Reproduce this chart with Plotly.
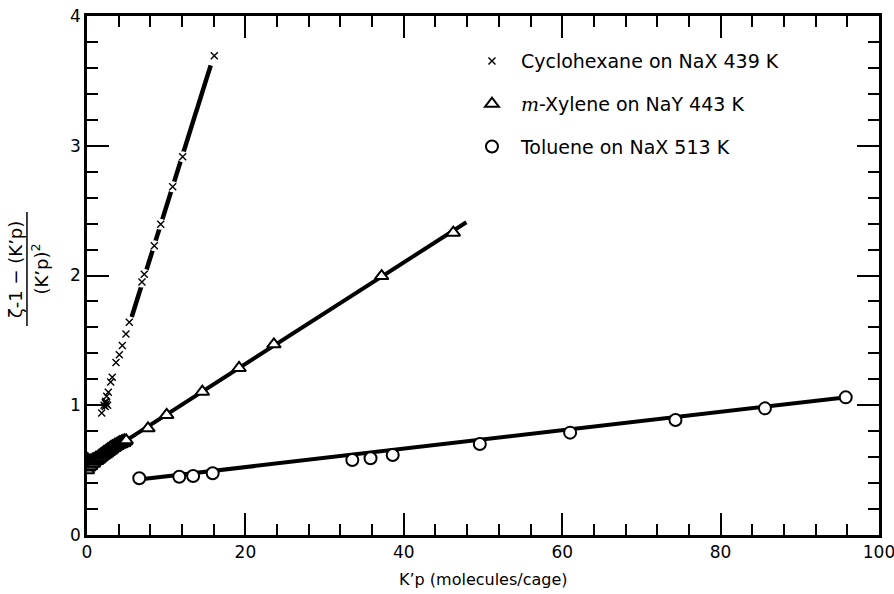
import plotly.graph_objects as go

# --- measured points -------------------------------------------------------
# Cyclohexane on NaX, 439 K
cyc_x = [1.86, 2.15, 2.3, 2.3, 2.36, 2.45, 2.49, 2.6, 2.69, 2.99, 3.19, 3.66,
         4.08, 4.46, 4.92, 5.34, 6.94, 7.23, 8.50, 9.31, 10.82, 12.08, 16.07]
cyc_y = [0.94, 1.00, 0.99, 1.02, 1.03, 1.01, 1.07, 1.00, 1.10, 1.18, 1.215, 1.33,
         1.39, 1.46, 1.55, 1.64, 1.95, 2.01, 2.23, 2.395, 2.684, 2.916, 3.694]

# m-Xylene on NaY, 443 K (dense run of points below K'p = 5)
xyl_x = [0.05, 0.08, 0.12, 0.2, 0.22, 0.3, 0.35, 0.45, 0.5, 0.62, 0.7, 0.8,
         0.88, 0.95, 1.1, 1.2, 1.3, 1.42, 1.5, 1.6, 1.7, 1.8, 1.95, 2.05,
         2.15, 2.3, 2.4, 2.5, 2.6, 2.7, 2.85, 2.95, 3.05, 3.15, 3.25, 3.4,
         3.5, 3.6, 3.7, 3.8, 3.95, 4.05, 4.15, 4.25, 4.35, 4.45, 4.55, 4.65,
         4.75, 4.85, 4.95, 7.7, 10.06, 14.56, 19.2, 23.6, 37.2, 46.25]
xyl_y = [0.50, 0.585, 0.54, 0.52, 0.575, 0.545, 0.565, 0.53, 0.575, 0.55, 0.58, 0.55,
         0.585, 0.565, 0.595, 0.57, 0.60, 0.58, 0.61, 0.59, 0.62, 0.60, 0.63, 0.61,
         0.64, 0.62, 0.65, 0.63, 0.66, 0.64, 0.67, 0.65, 0.68, 0.66, 0.685, 0.67,
         0.695, 0.68, 0.70, 0.685, 0.71, 0.695, 0.715, 0.70, 0.72, 0.705, 0.725, 0.71,
         0.73, 0.72, 0.73, 0.822, 0.925, 1.104, 1.287, 1.47, 1.996, 2.33]

# Toluene on NaX, 513 K
tol_x = [6.6, 11.65, 13.4, 15.87, 33.5, 35.8, 38.6, 49.6, 61.0, 74.3, 85.6, 95.8]
tol_y = [0.437, 0.449, 0.455, 0.476, 0.578, 0.591, 0.617, 0.701, 0.789, 0.886,
         0.976, 1.061]

# straight-line fits through each set (end points)
cyc_fit_x = [5.64, 15.62]
cyc_fit_y = [1.68, 3.62]
xyl_fit_x = [0.0, 47.9]
xyl_fit_y = [0.535, 2.41]
tol_fit_x = [6.56, 96.2]
tol_fit_y = [0.428, 1.064]

labels = ["Cyclohexane on NaX 439 K",
          "<span style='font-family:DejaVu Serif'><i>m</i></span>-Xylene on NaY 443 K",
          "Toluene on NaX 513 K"]

FONT = "DejaVu Sans"
INK = "black"

fig = go.Figure()

# fitted lines
for fx, fy, w in [(cyc_fit_x, cyc_fit_y, 4.5), (xyl_fit_x, xyl_fit_y, 4),
                  (tol_fit_x, tol_fit_y, 4)]:
    fig.add_trace(go.Scatter(x=fx, y=fy, mode="lines", showlegend=False,
                             hoverinfo="skip",
                             line=dict(color=INK, width=w)))

# white halo breaks the cyclohexane line around each cross
fig.add_trace(go.Scatter(x=cyc_x, y=cyc_y, mode="markers", showlegend=False,
                         hoverinfo="skip",
                         marker=dict(symbol="circle", size=11, color="white",
                                     line=dict(width=0))))

fig.add_trace(go.Scatter(x=cyc_x, y=cyc_y, mode="markers", name=labels[0],
                         legendgroup="a",
                         marker=dict(symbol="x-thin", size=7,
                                     line=dict(color=INK, width=1.4))))
fig.add_trace(go.Scatter(x=xyl_x, y=xyl_y, mode="markers", name=labels[1],
                         legendgroup="b",
                         marker=dict(symbol="triangle-up", size=12, color="white",
                                     line=dict(color=INK, width=2))))
fig.add_trace(go.Scatter(x=tol_x, y=tol_y, mode="markers", name=labels[2],
                         legendgroup="c",
                         marker=dict(symbol="circle", size=12, color="white",
                                     line=dict(color=INK, width=2))))

axis_common = dict(showgrid=False, zeroline=False, showline=True,
                   linecolor=INK, linewidth=2.5, mirror="allticks",
                   ticks="inside", ticklen=22, tickwidth=2, tickcolor=INK,
                   ticklabeloverflow="allow", automargin=False,
                   tickfont=dict(family=FONT, size=17, color=INK))

fig.update_xaxes(range=[0, 100], dtick=20, tick0=0,
                 minor=dict(dtick=4, ticks="inside", ticklen=11, tickwidth=2,
                            tickcolor=INK),
                 **axis_common)
fig.update_yaxes(range=[0, 4], dtick=1, tick0=0,
                 minor=dict(dtick=0.2, ticks="inside", ticklen=11, tickwidth=2,
                            tickcolor=INK),
                 **axis_common)

# x-axis title
fig.add_annotation(text="K’p (molecules/cage)", xref="paper", yref="paper",
                   x=0.5, y=-0.0848, showarrow=False,
                   xanchor="center", yanchor="middle",
                   font=dict(family=FONT, size=16, color=INK))

# y-axis label written as a fraction
fig.add_annotation(text="ζ-1 − (K’p)", xref="paper", yref="paper",
                   x=-0.091, y=0.5125, textangle=-90, showarrow=False,
                   xanchor="center", yanchor="middle",
                   font=dict(family=FONT, size=18, color=INK))
fig.add_annotation(text="(K’p)<sup>2</sup>", xref="paper", yref="paper",
                   x=-0.059, y=0.512, textangle=-90, showarrow=False,
                   xanchor="center", yanchor="middle",
                   font=dict(family=FONT, size=18, color=INK))
fig.add_shape(type="line", xref="paper", yref="paper",
              x0=-0.0758, x1=-0.0758, y0=0.4027, y1=0.6224,
              line=dict(color=INK, width=1.5))

fig.update_layout(
    width=894, height=594,
    margin=dict(l=87, r=15, t=16, b=59),
    paper_bgcolor="white", plot_bgcolor="white",
    showlegend=True,
    legend=dict(x=0.4747, y=0.9495, xanchor="left", yanchor="top",
                bgcolor="rgba(0,0,0,0)", tracegroupgap=15, itemwidth=48,
                font=dict(family=FONT, size=19, color=INK)),
)

fig.write_html("out.html")
